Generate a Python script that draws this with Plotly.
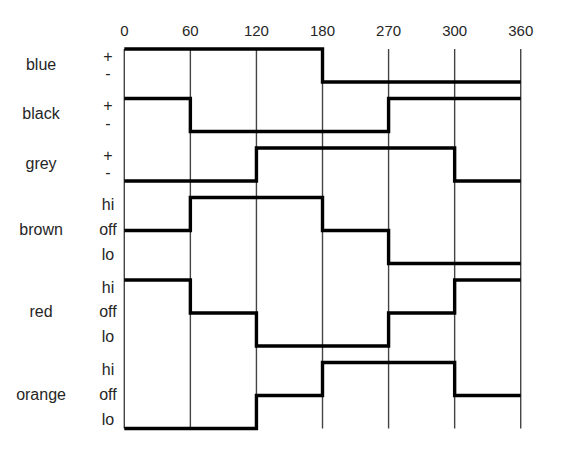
import plotly.graph_objects as go

# ---- data ----
angles = ["0", "60", "120", "180", "270", "300", "360"]
rows = ["blue", "black", "grey", "brown", "red", "orange"]
row_levels = {
    "blue": ["+", "-"],
    "black": ["+", "-"],
    "grey": ["+", "-"],
    "brown": ["hi", "off", "lo"],
    "red": ["hi", "off", "lo"],
    "orange": ["hi", "off", "lo"],
}
# state per segment (6 segments between the 7 angle marks)
blue_states = ["+", "+", "+", "-", "-", "-"]
black_states = ["+", "-", "-", "-", "+", "+"]
grey_states = ["-", "-", "+", "+", "+", "-"]
brown_states = ["off", "hi", "hi", "off", "lo", "lo"]
red_states = ["hi", "off", "lo", "lo", "off", "hi"]
orange_states = ["lo", "lo", "off", "hi", "hi", "off"]

states = {
    "blue": blue_states, "black": black_states, "grey": grey_states,
    "brown": brown_states, "red": red_states, "orange": orange_states,
}

# vertical start of each row band (in level units)
row_offset = {"blue": 0.0, "black": 1.5, "grey": 3.0, "brown": 4.5, "red": 7.0, "orange": 9.5}
label_pos2 = [0.27, 0.8]
label_pos3 = [0.27, 1.0, 1.77]

W, H = 567, 450
PAGE_OFF = 8  # default body margin of the html page
TOP = 32
x0_px, dx_px = 124.3 - PAGE_OFF, 66.07
y0_px, dy_px = 49.0 - PAGE_OFF, 33.0

x_range = [(0 - x0_px) / dx_px, (W - x0_px) / dx_px]
y_range = [(H - y0_px) / dy_px, (TOP - y0_px) / dy_px]

fig = go.Figure()
xs = list(range(len(angles)))
y_top = 0.0
y_bot = row_offset["orange"] + 2

vx, vy = [], []
for i in xs:
    vx += [i, i, None]
    vy += [y_top, y_bot, None]
fig.add_trace(go.Scatter(x=vx, y=vy, mode="lines",
                         line=dict(color="#444444", width=1.4),
                         hoverinfo="skip", showlegend=False, cliponaxis=False))

font = dict(family="Liberation Sans, Arial, sans-serif", size=15, color="#262626")
font_row = dict(family="Liberation Sans, Arial, sans-serif", size=16, color="#262626")

for r in rows:
    lv = row_levels[r]
    off = row_offset[r]
    ys = [off + lv.index(s) for s in states[r]]
    ys = ys + [ys[-1]]
    fig.add_trace(go.Scatter(x=xs, y=ys, mode="lines", line_shape="hv",
                             line=dict(color="black", width=3.4),
                             name=r, showlegend=False, cliponaxis=False))
    pos = label_pos2 if len(lv) == 2 else label_pos3
    fig.add_trace(go.Scatter(x=[-0.247] * len(lv), y=[off + p for p in pos],
                             mode="text", text=lv, textfont=font_row,
                             hoverinfo="skip", showlegend=False, cliponaxis=False))
    mid = off + (len(lv) - 1) / 2
    fig.add_trace(go.Scatter(x=[-1.26], y=[mid], mode="text", text=[r],
                             textfont=font_row, hoverinfo="skip",
                             showlegend=False, cliponaxis=False))

fig.update_layout(
    width=W, height=H,
    margin=dict(l=0, r=0, t=TOP, b=0),
    paper_bgcolor="white", plot_bgcolor="white",
    xaxis=dict(range=x_range, side="top", tickvals=xs, ticktext=angles,
               showgrid=False, zeroline=False, showline=False, ticks="",
               tickfont=font),
    yaxis=dict(range=y_range, showgrid=False, zeroline=False, showline=False,
               showticklabels=False, ticks=""),
)

fig.write_html("out.html")
